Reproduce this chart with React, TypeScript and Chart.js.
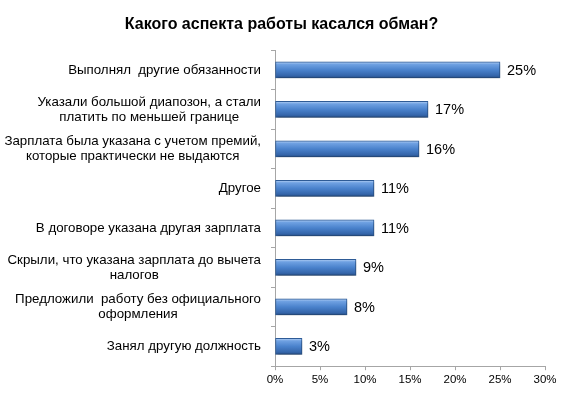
import React, { useEffect, useRef } from "react";
import { Chart, registerables } from "chart.js";

Chart.register(...registerables);

const categories: (string | string[])[] = [
  "Выполнял  другие обязанности",
  ["Указали большой диапозон, а стали", "платить по меньшей границе"],
  ["Зарплата была указана с учетом премий,", "которые практически не выдаются"],
  "Другое",
  "В договоре указана другая зарплата",
  ["Скрыли, что указана зарплата до вычета", "налогов"],
  ["Предложили  работу без официального", "оформления"],
  "Занял другую должность",
];
const values: number[] = [25, 17, 16, 11, 11, 9, 8, 3];
const xTicks: number[] = [0, 5, 10, 15, 20, 25, 30];
const title = "Какого аспекта работы касался обман?";

const FONT = "Arial, 'Liberation Sans', sans-serif";

// draws category labels: block right-aligned to the axis, lines centered within block
const categoryLabels = {
  id: "categoryLabels",
  afterDraw(chart: any) {
    const ctx = chart.ctx;
    const ys = chart.scales.y;
    const right = ys.right - 14;
    const lh = 15;
    ctx.save();
    ctx.font = `13.3px ${FONT}`;
    ctx.fillStyle = "#000";
    ctx.textAlign = "center";
    ctx.textBaseline = "middle";
    categories.forEach((lab, i) => {
      const lines = Array.isArray(lab) ? lab : [lab];
      const w = Math.max(...lines.map((l) => ctx.measureText(l).width));
      const cx = right - w / 2;
      const cy = ys.getPixelForValue(i);
      const top = cy - ((lines.length - 1) * lh) / 2;
      lines.forEach((l, k) => ctx.fillText(l, cx, top + k * lh));
    });
    ctx.restore();
  },
};

const valueLabels = {
  id: "valueLabels",
  afterDatasetsDraw(chart: any) {
    const ctx = chart.ctx;
    const meta = chart.getDatasetMeta(0);
    ctx.save();
    ctx.font = `14.5px ${FONT}`;
    ctx.fillStyle = "#000";
    ctx.textAlign = "left";
    ctx.textBaseline = "middle";
    meta.data.forEach((bar: any, i: number) => {
      ctx.fillText(`${values[i]}%`, bar.x + 7, bar.y + 1);
    });
    ctx.restore();
  },
};

const barShadow = {
  id: "barShadow",
  beforeDatasetsDraw(chart: any) {
    const ctx = chart.ctx;
    ctx.save();
    ctx.shadowColor = "rgba(0,0,0,0.35)";
    ctx.shadowBlur = 3;
    ctx.shadowOffsetX = 1;
    ctx.shadowOffsetY = 2;
  },
  afterDatasetsDraw(chart: any) {
    chart.ctx.restore();
  },
};

export default function App() {
  const ref = useRef<HTMLCanvasElement>(null);
  useEffect(() => {
    if (!ref.current) return;
    const chart = new Chart(ref.current, {
      type: "bar",
      data: {
        labels: categories,
        datasets: [
          {
            data: values,
            barThickness: 16,
            borderWidth: 1,
            borderColor: "#2f5d99",
            borderSkipped: false,
            backgroundColor: (c: any) => {
              const ch = c.chart;
              const ys = ch.scales && ch.scales.y;
              if (!ch.chartArea || !ys || c.dataIndex === undefined) return "#4a7fc5";
              const y = ys.getPixelForValue(c.dataIndex);
              const g = ch.ctx.createLinearGradient(0, y - 8, 0, y + 8);
              g.addColorStop(0, "#b4d0f4");
              g.addColorStop(0.15, "#6fa1e2");
              g.addColorStop(0.5, "#4a82cc");
              g.addColorStop(0.85, "#3566ab");
              g.addColorStop(1, "#274f88");
              return g;
            },
          },
        ],
      },
      options: {
        indexAxis: "y",
        animation: false,
        responsive: false,
        maintainAspectRatio: false,
        layout: { padding: { left: 18, right: 36, top: 0, bottom: 4 } },
        plugins: {
          legend: { display: false },
          tooltip: { enabled: false },
          title: {
            display: true,
            text: title,
            color: "#000",
            font: { family: FONT, size: 16, weight: "bold" },
            padding: { top: 15, bottom: 16 },
          },
        },
        scales: {
          x: {
            min: 0,
            max: 30,
            afterBuildTicks: (s: any) => {
              s.ticks = xTicks.map((v) => ({ value: v }));
            },
            ticks: {
              callback: (v: any) => `${v}%`,
              color: "#000",
              font: { family: FONT, size: 11.5 },
              padding: 3,
            },
            grid: { drawOnChartArea: false, tickLength: 4, color: "#a6a6a6" },
            border: { color: "#a6a6a6" },
          },
          y: {
            afterFit: (s: any) => {
              s.width = 257;
            },
            ticks: {
              display: false,
            },
            grid: { drawOnChartArea: false, offset: true, tickLength: 4, color: "#a6a6a6" },
            border: { color: "#a6a6a6" },
          },
        },
      },
      plugins: [barShadow, valueLabels, categoryLabels],
    } as any);
    return () => chart.destroy();
  }, []);
  return (
    <div style={{ position: "fixed", left: 0, top: 0, width: 581, height: 394, background: "#fff" }}>
      <canvas ref={ref} width={581} height={394} style={{ width: 581, height: 394 }} />
    </div>
  );
}
